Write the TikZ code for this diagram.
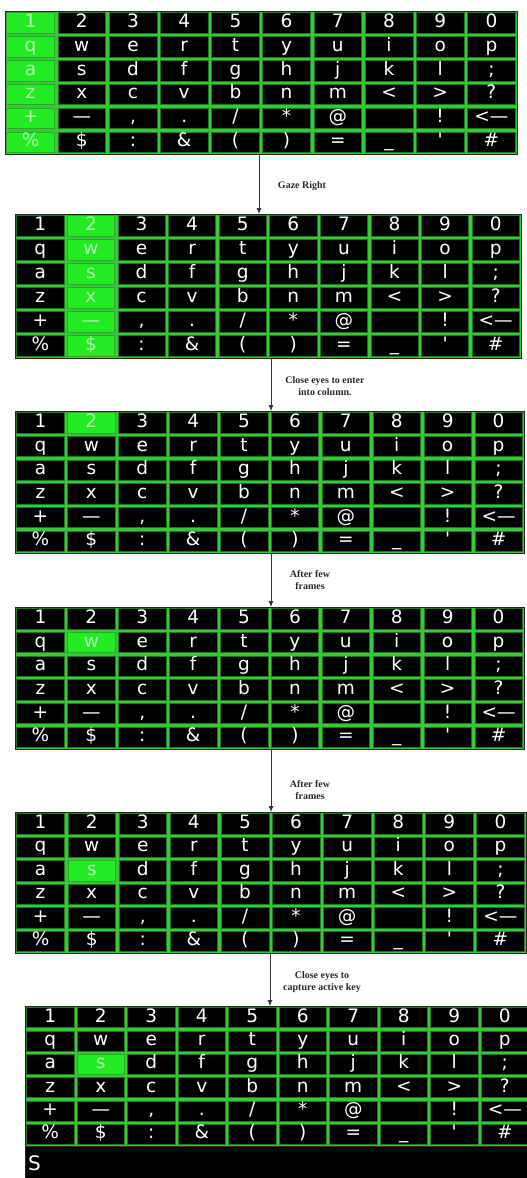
\documentclass[tikz,border=0pt]{standalone}
\usepackage{fontspec}
\usetikzlibrary{arrows.meta}
\newfontfamily\keyfont{DejaVu Sans}
\newfontfamily\labfont{Liberation Serif}
\definecolor{gridg}{RGB}{55,200,55}
\definecolor{hig}{RGB}{35,235,35}
\definecolor{hitext}{RGB}{175,255,175}
\definecolor{labc}{RGB}{40,40,40}
\def\keyA#1{\ifcase#1 \or 1\or 2\or 3\or 4\or 5\or 6\or 7\or 8\or 9\or 0\fi}
\def\keyB#1{\ifcase#1 \or q\or w\or e\or r\or t\or y\or u\or i\or o\or p\fi}
\def\keyC#1{\ifcase#1 \or a\or s\or d\or f\or g\or h\or j\or k\or l\or ;\fi}
\def\keyD#1{\ifcase#1 \or z\or x\or c\or v\or b\or n\or m\or <\or >\or ?\fi}
\def\keyE#1{\ifcase#1 \or +\or —\or ,\or .\or /\or *\or @\or \or !\or <—\fi}
\def\keyF#1{\ifcase#1 \or \%\or \$\or :\or \&\or (\or )\or =\or \_\or \textquotesingle\or \#\fi}
\def\keylab#1#2{\ifcase#1 \or\keyA{#2}\or\keyB{#2}\or\keyC{#2}\or\keyD{#2}\or\keyE{#2}\or\keyF{#2}\fi}
\tikzset{
  kbframe/.style={rectangle, fill=gridg, draw=black!85, line width=1pt, inner sep=0pt},
  keycell/.style={rectangle, fill=black, draw=black!40!gridg, line width=0.5pt, inner sep=0pt,
    text=white, font=\keyfont\fontsize{18.5}{18.5}\selectfont, text height=13.5pt, text depth=4.5pt},
  hicell/.style={keycell, fill=hig, draw=gridg!85!black, text=hitext},
  outbar/.style={rectangle, fill=black, draw=black!85, line width=1pt, inner sep=0pt},
  flow/.style={draw=black!80, line width=0.8pt, -{Latex[length=6pt,width=5pt]}},
  caption/.style={text=labc, font=\labfont\bfseries\fontsize{10}{11.5}\selectfont, align=center, inner sep=0pt},
}
\newcommand\kbd[6]{%
  \foreach \hr/\hc in {#6} {\expandafter\gdef\csname hl#1-\hr-\hc\endcsname{}}%
  \node[kbframe, minimum width=#4pt, minimum height=#5pt, anchor=north west] (#1) at (#2,#3) {};
  \pgfmathsetmacro\cw{#4/10}\pgfmathsetmacro\ch{#5/6}%
  \foreach \rr in {1,...,6}{\foreach \cc in {1,...,10}{%
    \ifcsname hl#1-\rr-\cc\endcsname \tikzset{kst/.style={hicell}}\else\tikzset{kst/.style={keycell}}\fi
    \node[kst, minimum width={\cw*1pt-3.4pt}, minimum height={\ch*1pt-3.4pt}] (#1-\rr-\cc)
      at ({#2+(\cc-0.5)*\cw},{#3+(\rr-0.5)*\ch}) {\keylab{\rr}{\cc}};
  }}%
}
\begin{document}
\begin{tikzpicture}[x=1pt,y=-1pt]
\path[use as bounding box] (0,0) rectangle (527,1178);
\clip (0,0) rectangle (527,1178);
\kbd{kba}{5}{11}{512}{143}{1/1,2/1,3/1,4/1,5/1,6/1}
\kbd{kbb}{15}{214}{506}{144}{1/2,2/2,3/2,4/2,5/2,6/2}
\kbd{kbc}{15}{411}{509}{142}{1/2}
\kbd{kbd}{15}{607}{509}{142}{2/2}
\kbd{kbe}{15}{812}{511}{141}{3/2}
\kbd{kbf}{25}{1006}{505}{140}{3/2}
\node[outbar, minimum width=505pt, minimum height=32pt, anchor=north west] (bar) at (25,1146) {};
\node[text=white, font=\keyfont\fontsize{20}{20}\selectfont, anchor=west, inner sep=0pt] (typed) at (28,1163) {S};
\coordinate (xa) at (259,0);
\coordinate (xb) at (271,0);
\coordinate (xc) at (271,0);
\coordinate (xd) at (271,0);
\coordinate (xe) at (270,0);
\draw[flow] (kba.south -| xa) -- (kbb.north -| xa);
\draw[flow] (kbb.south -| xb) -- (kbc.north -| xb);
\draw[flow] (kbc.south -| xc) -- (kbd.north -| xc);
\draw[flow] (kbd.south -| xd) -- (kbe.north -| xd);
\draw[flow] (kbe.south -| xe) -- (kbf.north -| xe);
\node[caption] (la) at (302,186) {Gaze Right};
\node[caption] (lb) at (325,386) {Close eyes to enter\\into column.};
\node[caption] (lc) at (310,580) {After few\\frames};
\node[caption] (ld) at (310,790) {After few\\frames};
\node[caption] (le) at (322,982) {Close eyes to\\capture active key};
\end{tikzpicture}
\end{document}
